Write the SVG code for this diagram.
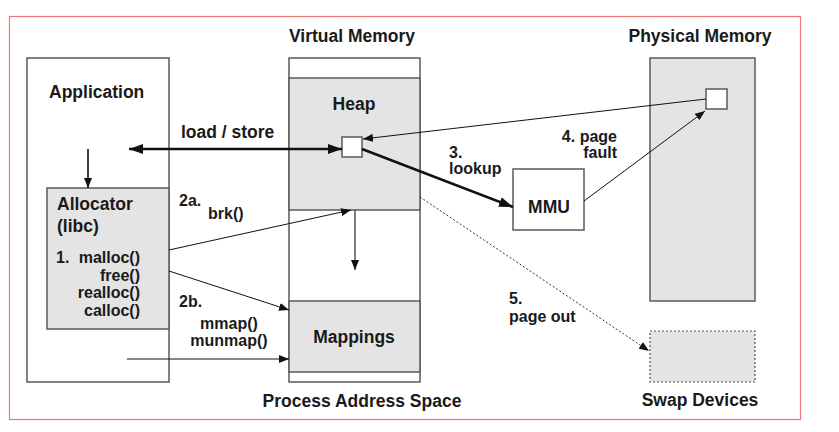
<svg xmlns="http://www.w3.org/2000/svg" width="839" height="432" viewBox="0 0 839 432">
<defs>
<style>
text{font-family:"Liberation Sans",Arial,sans-serif;font-weight:bold;fill:#1a1a1a}
.t{font-size:17.5px}
.s{font-size:16px}
.box{stroke:#5a5a5a;stroke-width:1.5}
.g{fill:#e4e4e4}
.w{fill:#fff}
.ln{fill:none;stroke:#111}
</style>
<marker id="ab" viewBox="0 0 14 10" refX="14" refY="5" markerWidth="14" markerHeight="10" markerUnits="userSpaceOnUse" orient="auto-start-reverse"><path d="M0,0L14,5L0,10z" fill="#111"/></marker>
<marker id="as" viewBox="0 0 10 8" refX="10" refY="4" markerWidth="10" markerHeight="8" markerUnits="userSpaceOnUse" orient="auto"><path d="M0,0L10,4L0,8z" fill="#111"/></marker>
</defs>
<rect x="9.5" y="16.5" width="791" height="403" fill="#fff" stroke="#e77" stroke-width="1.2"/>
<g id="application">
<rect class="box w" x="27" y="58" width="142" height="324"/>
<text class="t" x="49" y="98">Application</text>
</g>
<g id="allocator">
<rect class="box g" x="47" y="188" width="122" height="141"/>
<text class="t" x="57" y="210">Allocator</text>
<text class="t" x="57" y="232">(libc)</text>
<text class="s" x="56" y="263">1.</text>
<text class="s" x="140" y="263" text-anchor="end">malloc()</text>
<text class="s" x="140" y="281" text-anchor="end">free()</text>
<text class="s" x="140" y="298" text-anchor="end">realloc()</text>
<text class="s" x="140" y="316" text-anchor="end">calloc()</text>
</g>
<g id="virtual-memory">
<text class="t" x="352" y="42" text-anchor="middle">Virtual Memory</text>
<rect class="box w" x="289" y="58" width="131" height="324"/>
<rect class="box g" x="289" y="78" width="131" height="132"/>
<text class="t" x="354" y="110" text-anchor="middle">Heap</text>
<rect class="box g" x="289" y="301" width="131" height="71"/>
<text class="t" x="354" y="343" text-anchor="middle">Mappings</text>
<rect class="box w" x="342" y="137" width="20" height="20"/>
<text class="t" x="362" y="407" text-anchor="middle">Process Address Space</text>
</g>
<g id="mmu">
<rect class="box w" x="513" y="169" width="71" height="61"/>
<text class="t" x="549" y="213" text-anchor="middle">MMU</text>
</g>
<g id="physical-memory">
<text class="t" x="700" y="42" text-anchor="middle">Physical Memory</text>
<rect class="box g" x="650" y="58" width="105" height="243"/>
<rect class="box w" x="706" y="89" width="21" height="20"/>
</g>
<g id="swap-devices">
<rect class="g" x="650" y="331" width="105" height="51" stroke="#555" stroke-width="1.2" stroke-dasharray="2,2"/>
<text class="t" x="700" y="406" text-anchor="middle">Swap Devices</text>
</g>
<g id="connectors">
<line class="ln" x1="88" y1="149" x2="88" y2="188" stroke-width="1.6" marker-end="url(#as)"/>
<line class="ln" x1="129" y1="149" x2="342" y2="149" stroke-width="2.5" marker-start="url(#ab)" marker-end="url(#ab)"/>
<line class="ln" x1="169" y1="250" x2="351" y2="210" stroke-width="1" marker-end="url(#as)"/>
<line class="ln" x1="169" y1="271" x2="289" y2="310" stroke-width="1" marker-end="url(#as)"/>
<line class="ln" x1="127" y1="359" x2="289" y2="359" stroke-width="1" marker-end="url(#as)"/>
<line x1="355" y1="210" x2="355" y2="270" stroke="#555" stroke-width="1.5" marker-end="url(#as)"/>
<line class="ln" x1="362" y1="149" x2="513" y2="207" stroke-width="2.5" marker-end="url(#ab)"/>
<line class="ln" x1="706" y1="99" x2="363" y2="139" stroke-width="1" marker-end="url(#as)"/>
<line class="ln" x1="584" y1="201" x2="705" y2="111" stroke-width="1" marker-end="url(#as)"/>
<line x1="420" y1="197" x2="649" y2="351" stroke="#333" stroke-width="1" stroke-dasharray="2,2" marker-end="url(#as)"/>
</g>
<g id="labels">
<text class="t" x="181" y="138">load / store</text>
<text class="s" x="179" y="206">2a.</text>
<text class="s" x="208" y="219">brk()</text>
<text class="s" x="179" y="307">2b.</text>
<text class="s" x="229" y="329" text-anchor="middle">mmap()</text>
<text class="s" x="229" y="346" text-anchor="middle">munmap()</text>
<text class="s" x="449" y="158">3.</text>
<text class="s" x="449" y="174">lookup</text>
<text class="s" x="617" y="142" text-anchor="end">4. page</text>
<text class="s" x="617" y="158" text-anchor="end">fault</text>
<text class="s" x="509" y="304">5.</text>
<text class="s" x="509" y="322">page out</text>
</g>
</svg>
